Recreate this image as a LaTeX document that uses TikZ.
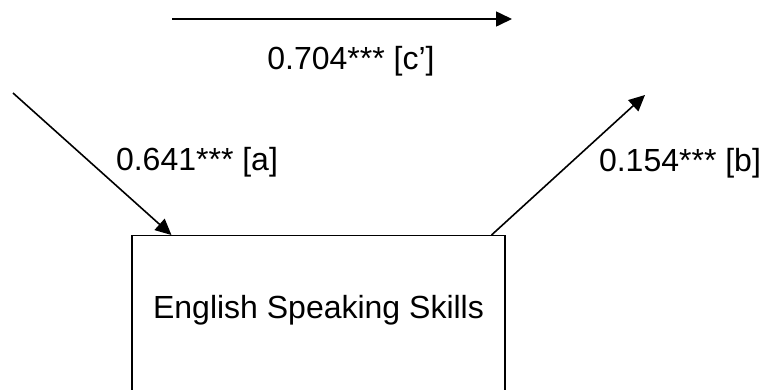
\documentclass[tikz,border=0pt]{standalone}
\usepackage{fontspec}
\setmainfont{Liberation Sans}
\usetikzlibrary{arrows.meta,calc}
\tikzset{
  conn/.style={line width=1.6pt,-{Triangle[length=16pt,width=15pt]}},
  lbl/.style={inner sep=0pt,font=\fontsize{32}{38}\selectfont},
  boxnode/.style={draw,line width=1.1pt,minimum width=373pt,minimum height=180pt,inner sep=0pt,
    text height=22pt,text depth=36pt,font=\fontsize{32}{38}\selectfont}
}
\begin{document}
\begin{tikzpicture}[x=1pt,y=-1pt]
\useasboundingbox (0,0) rectangle (764,389);
\clip (0,0) rectangle (764,389);
\fill[white] (0,0) rectangle (764,389);
\node[boxnode,anchor=north] (ess) at (318.5,235) {English Speaking Skills};
\coordinate (cs) at (172,19);
\coordinate (ce) at (512,19);
\coordinate (as) at (13,93);
\coordinate (be) at (645,95);
\draw[conn] (cs) -- (ce);
\draw[conn] (as) -- ($(ess.north west)+(40,0)$);
\draw[conn] ($(ess.north east)+(-14,0)$) -- (be);
\node[lbl] (lc) at (351,61) {0.704*** [c’]};
\node[lbl] (la) at (197,162) {0.641*** [a]};
\node[lbl] (lb) at (680,163) {0.154*** [b]};
\end{tikzpicture}
\end{document}
